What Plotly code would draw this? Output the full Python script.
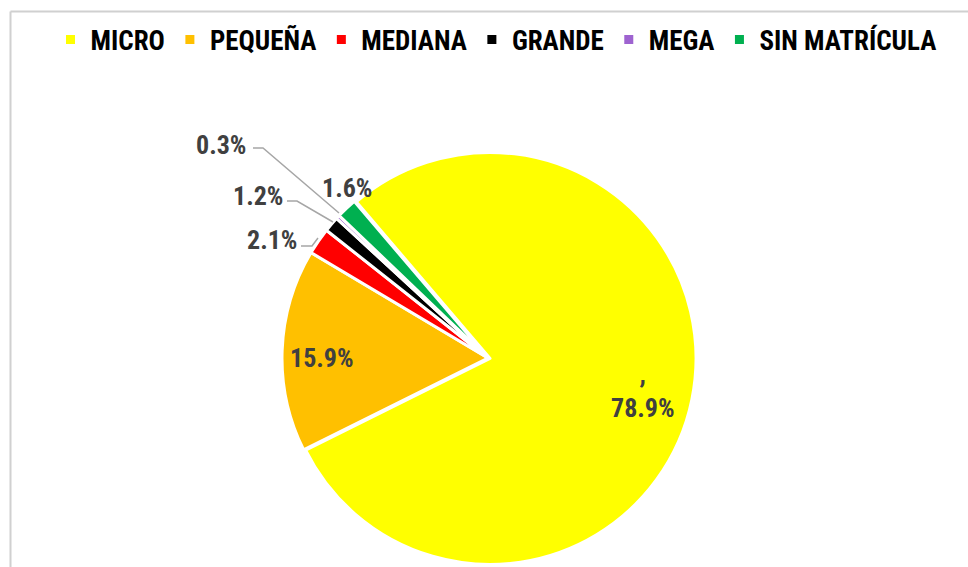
import plotly.graph_objects as go

# ---- data ----
categories = ["MICRO", "PEQUEÑA", "MEDIANA", "GRANDE", "MEGA", "SIN MATRÍCULA"]
values = [78.9, 15.9, 2.1, 1.2, 0.3, 1.6]
colors = ["#FFFF00", "#FFC000", "#FF0000", "#000000", "#9E63D0", "#00B050"]
label_texts = [",<br>78.9%", "15.9%", "2.1%", "1.2%", "0.3%", "1.6%"]

W, H = 968, 567
FONT = "Liberation Sans Narrow, Arial Narrow, Roboto Condensed, sans-serif"

def px(x, y):
    return x / W, 1 - y / H

# pie geometry (pixels)
cx, cy, R = 488, 358, 206 * 1.01
x0, y0 = px(cx - R, cy + R)
x1, y1 = px(cx + R, cy - R)

fig = go.Figure(go.Pie(
    labels=categories,
    values=values,
    sort=False,
    direction="clockwise",
    rotation=-40.5,
    marker=dict(colors=colors, line=dict(color="white", width=3)),
    pull=[0.01, 0, 0, 0, 0, 0],
    textinfo="none",
    hoverinfo="label+percent",
    domain=dict(x=[x0, x1], y=[y0, y1]),
))

# label positions (pixels) and leader lines
label_pos = [(643, 391), (322, 358), (272, 240), (258, 196), (221, 145), (347, 188)]
leaders = {
    2: [(301, 246), (312, 246), (318, 238)],
    3: [(287, 201), (297, 201), (333, 222)],
    4: [(253, 148), (263, 148), (339, 213)],
}

annotations = []
for i, (lx, ly) in enumerate(label_pos):
    ax, ay = px(lx, ly)
    annotations.append(dict(
        x=ax, y=ay, xref="paper", yref="paper", text=label_texts[i],
        showarrow=False, xanchor="center", yanchor="middle",
        font=dict(family=FONT, size=26, color="#404040", weight="bold"),
    ))

shapes = []
for i, pts in leaders.items():
    path = "M " + " L ".join(f"{px(x, y)[0]:.5f},{px(x, y)[1]:.5f}" for x, y in pts)
    shapes.append(dict(type="path", xref="paper", yref="paper", path=path,
                       line=dict(color="#A6A6A6", width=1.5)))

# chart border (top and left edges visible)
bx0, by1 = px(10.5, 11.5)
shapes.append(dict(type="line", xref="paper", yref="paper", x0=bx0, y0=by1, x1=1.0, y1=by1,
                   line=dict(color="#D0D0D0", width=2)))
shapes.append(dict(type="line", xref="paper", yref="paper", x0=bx0, y0=by1, x1=bx0, y1=0.0,
                   line=dict(color="#D0D0D0", width=2)))

lx, ly = px(496, 40)
fig.update_layout(
    width=W, height=H,
    margin=dict(l=0, r=0, t=0, b=0),
    paper_bgcolor="white",
    plot_bgcolor="white",
    showlegend=True,
    legend=dict(orientation="h", x=lx, y=ly, xanchor="center", yanchor="middle",
                font=dict(family=FONT, size=27, color="black", weight="bold"),
                itemclick=False, bgcolor="rgba(0,0,0,0)"),
    annotations=annotations,
    shapes=shapes,
)

fig.write_html("out.html", config={"displayModeBar": False},
               post_script="document.body.style.margin='0';document.body.style.overflow='hidden';")
